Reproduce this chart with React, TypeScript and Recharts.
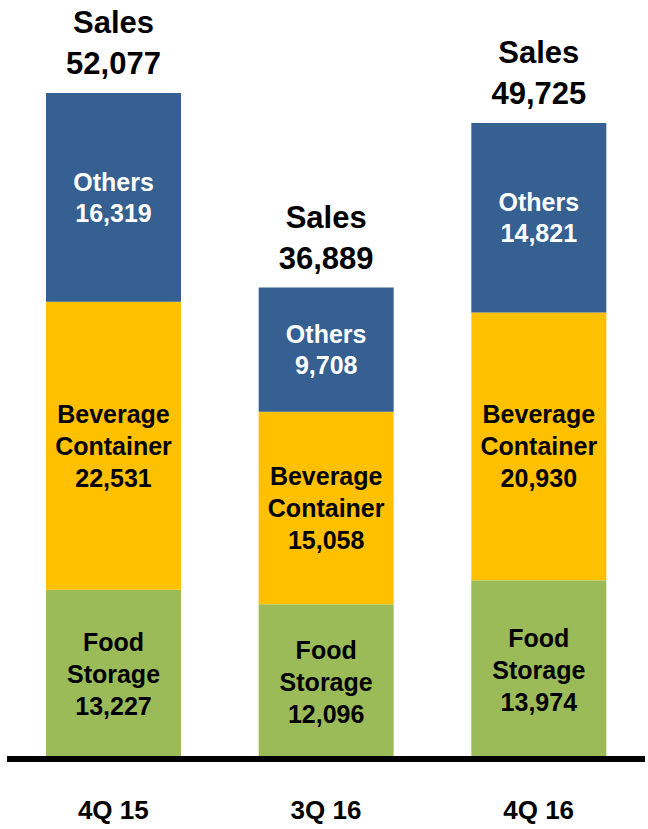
import React from 'react';
import { BarChart, Bar, XAxis, YAxis, LabelList } from 'recharts';

const categories = ['4Q 15', '3Q 16', '4Q 16'];
const foodStorage = [13227, 12096, 13974];
const beverageContainer = [22531, 15058, 20930];
const others = [16319, 9708, 14821];
const salesTotals = [52077, 36889, 49725];

const data = categories.map((c, i) => ({
  name: c,
  food: foodStorage[i],
  beverage: beverageContainer[i],
  others: others[i],
  sales: salesTotals[i],
}));

const maxStack = Math.max(
  ...categories.map((_, i) => foodStorage[i] + beverageContainer[i] + others[i])
);

const fmt = (v: number) => v.toLocaleString('en-US');

const ARIAL = '"Liberation Sans", Arial, sans-serif';

const makeSegmentLabel = (lines: string[], color: string, size: number, lh: number) =>
  (props: any) => {
    const { x, y, width, height, value } = props;
    const cx = Number(x) + Number(width) / 2;
    const cy = Number(y) + Number(height) / 2;
    const all = [...lines, fmt(Number(value))];
    const n = all.length;
    const capOffset = size * 0.36;
    return (
      <text textAnchor="middle" fill={color} fontFamily={ARIAL} fontWeight="bold" fontSize={size}>
        {all.map((t, k) => (
          <tspan key={k} x={cx} y={cy + (k - (n - 1) / 2) * lh + capOffset}>
            {t}
          </tspan>
        ))}
      </text>
    );
  };

const SalesLabel = (props: any) => {
  const { x, y, width, value } = props;
  const cx = Number(x) + Number(width) / 2;
  const top = Number(y);
  return (
    <text textAnchor="middle" fill="#000" fontFamily={ARIAL} fontWeight="bold" fontSize={31}>
      <tspan x={cx} y={top - 60}>Sales</tspan>
      <tspan x={cx} y={top - 19}>{fmt(Number(value))}</tspan>
    </text>
  );
};

const XTick = (props: any) => {
  const { x, y, payload } = props;
  return (
    <text x={x} y={y + 52} textAnchor="middle" fill="#000" fontFamily={ARIAL} fontWeight="bold" fontSize={26}>
      {payload.value}
    </text>
  );
};

export default function App() {
  return (
    <div style={{ position: 'absolute', left: 0, top: 0, width: 648, height: 829, background: '#fff' }}>
      <BarChart
        width={648}
        height={829}
        data={data}
        margin={{ top: 93, right: 3, bottom: 0, left: 7 }}
        barSize={135}
      >
        <YAxis hide type="number" domain={[0, maxStack]} allowDataOverflow />
        <XAxis
          dataKey="name"
          height={70}
          axisLine={{ stroke: '#000', strokeWidth: 6 }}
          tickLine={false}
          tick={<XTick />}
          interval={0}
        />
        <Bar dataKey="food" stackId="s" fill="#9BBB59" isAnimationActive={false}>
          <LabelList dataKey="food" content={makeSegmentLabel(['Food', 'Storage'], '#000', 25, 32)} />
        </Bar>
        <Bar dataKey="beverage" stackId="s" fill="#FFC000" isAnimationActive={false}>
          <LabelList dataKey="beverage" content={makeSegmentLabel(['Beverage', 'Container'], '#000', 25, 32)} />
        </Bar>
        <Bar dataKey="others" stackId="s" fill="#366092" isAnimationActive={false}>
          <LabelList dataKey="others" content={makeSegmentLabel(['Others'], '#fff', 25, 31)} />
          <LabelList dataKey="sales" content={<SalesLabel />} />
        </Bar>
      </BarChart>
    </div>
  );
}
